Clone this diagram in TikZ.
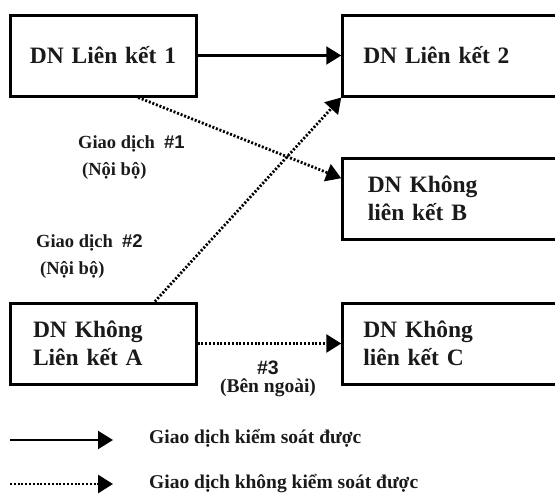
\documentclass[tikz,border=0pt]{standalone}
\usepackage{fontspec}
\setmainfont{Liberation Serif}
\setsansfont{Liberation Sans}
\usetikzlibrary{arrows.meta}
\definecolor{ink}{HTML}{1A1A1A}

\tikzset{
  firm/.style={draw=black,line width=3pt,minimum height=81pt,inner xsep=23pt,text width=140pt,align=left,
    font=\fontsize{23.5}{28}\selectfont\bfseries,text=ink},
  ctrl/.style={line width=2.2pt,-{Triangle[length=15pt,width=18pt]}},
  unctrl/.style={line width=2.8pt,dash pattern=on 2pt off 1.8pt,-{Triangle[length=15pt,width=18pt]}},
  note/.style={align=left,inner sep=0pt,text=ink,font=\fontsize{18.5}{27}\selectfont\bfseries}
}

\begin{document}
\begin{tikzpicture}[x=1pt,y=-1pt]
\useasboundingbox (0,0) rectangle (555,496);
% firms
\node[firm,align=center,inner xsep=8pt,text width=170pt] (dn1) at (103,55.5) {DN Liên kết 1};
\node[firm,inner xsep=20.5pt,text width=186pt] (dn2) at (456.25,55.5) {DN Liên kết 2};
\node[firm,inner xsep=25pt,text width=177pt] (dnB) at (456.25,198.5) {DN Không\\liên kết B};
\node[firm] (dnA) at (103,343.5) {DN Không\\Liên kết A};
\node[firm,inner xsep=20.5pt,text width=186pt] (dnC) at (456.25,343.5) {DN Không\\liên kết C};
% transactions
\draw[ctrl] (dn1.east) -- (dn2.west);
\draw[unctrl] (dn1.-50) -- (dnB.170);
\draw[unctrl] (dnA.39) -- (dn2.south west);
\draw[unctrl] (dnA.east) -- (dnC.west);
\node[note,anchor=west] (t1) at (78,158) {Giao dịch\ \ {\sffamily\#1}\\\hspace{4pt}(Nội bộ)};
\node[note,anchor=west] (t2) at (36,256.5) {Giao dịch\ \ {\sffamily\#2}\\\hspace{4pt}(Nội bộ)};
\node[note,align=center,font=\fontsize{19.5}{18}\selectfont\bfseries] (t3) at (268,379) {{\sffamily\#3}\\(Bên ngoài)};
% legend
\coordinate (k1a) at (10,440); \coordinate (k1b) at (113,440);
\coordinate (k2a) at (10,484); \coordinate (k2b) at (113,484);
\draw[ctrl] (k1a) -- (k1b);
\draw[unctrl] (k2a) -- (k2b);
\node[note,anchor=west,font=\fontsize{19.5}{23}\selectfont\bfseries] (k1) at (149,438) {Giao dịch kiểm soát được};
\node[note,anchor=west,font=\fontsize{19.5}{23}\selectfont\bfseries] (k2) at (149,484) {Giao dịch không kiểm soát được};
\end{tikzpicture}
\end{document}
